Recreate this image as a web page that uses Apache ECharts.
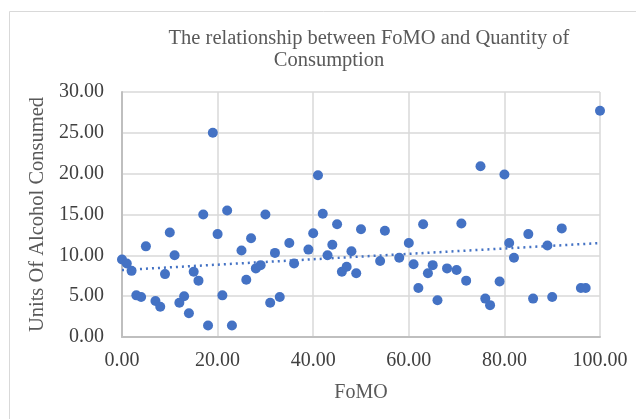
<!DOCTYPE html>
<html>
<head>
<meta charset="utf-8">
<script src="https://cdn.jsdelivr.net/npm/echarts@6/dist/echarts.min.js"></script>
<style>
  html, body { margin: 0; padding: 0; background: #fff; }
  #main { width: 636px; height: 419px; }
</style>
</head>
<body>
<div id="main"></div>
<script>
// FoMO score vs units of alcohol
var fomo = [0, 1, 2, 3, 4, 5, 7, 8, 9, 10, 11, 12, 13, 14, 15, 16, 17, 18, 19, 20,
    21, 22, 23, 25, 26, 27, 28, 29, 30, 31, 32, 33, 35, 36, 39, 40, 41, 42, 43, 44,
    45, 46, 47, 48, 49, 50, 54, 55, 58, 60, 61, 62, 63, 64, 65, 66, 68, 70, 71, 72,
    75, 76, 77, 79, 80, 81, 82, 85, 86, 89, 90, 92, 96, 97, 100];
var units = [9.5, 9.0, 8.1, 5.1, 4.9, 11.1, 4.4, 3.7, 7.7, 12.8, 10.0, 4.2, 5.0, 2.9, 8.0, 6.9, 15.0, 1.4, 25.0, 12.6,
    5.1, 15.5, 1.4, 10.6, 7.0, 12.1, 8.4, 8.8, 15.0, 4.2, 10.3, 4.9, 11.5, 9.0, 10.7, 12.7, 19.8, 15.1, 10.0, 11.3,
    13.8, 8.0, 8.6, 10.5, 7.8, 13.2, 9.3, 13.0, 9.7, 11.5, 8.9, 6.0, 13.8, 7.8, 8.8, 4.5, 8.4, 8.2, 13.9, 6.9,
    20.9, 4.7, 3.9, 6.8, 19.9, 11.5, 9.7, 12.6, 4.7, 11.2, 4.9, 13.3, 6.0, 6.0, 27.7];
// linear trend line ends as drawn
var trendX = [0, 100];
var trendY = [8.2, 11.5];

var points = [];
for (var i = 0; i < fomo.length; i++) {
    points.push([fomo[i], units[i]]);
}
var trend = [[trendX[0], trendY[0]], [trendX[1], trendY[1]]];

var serif = '"Liberation Serif", "Times New Roman", serif';
var chart = echarts.init(document.getElementById('main'));

option = {
    animation: false,
    graphic: [{
        type: 'rect',
        left: 7, top: 9,
        shape: { width: 700, height: 500 },
        style: { fill: 'none', stroke: '#d9d9d9', lineWidth: 1 }
    }],
    title: [
        {
            text: 'The relationship between FoMO and Quantity of',
            left: 364, top: 23, textAlign: 'center',
            textStyle: { fontFamily: serif, fontSize: 20.5, fontWeight: 'normal', color: '#595959' }
        },
        {
            text: 'Consumption',
            left: 324, top: 45, textAlign: 'center',
            textStyle: { fontFamily: serif, fontSize: 20.5, fontWeight: 'normal', color: '#595959' }
        }
    ],
    grid: { left: 122, right: 36, top: 92, bottom: 82 },
    xAxis: {
        type: 'value',
        min: 0, max: 100, interval: 20,
        name: 'FoMO',
        nameLocation: 'middle',
        nameGap: 46,
        nameTextStyle: { fontFamily: serif, fontSize: 20, color: '#595959' },
        axisLine: { show: true, lineStyle: { color: '#bfbfbf', width: 2 } },
        axisTick: { show: false },
        axisLabel: {
            fontFamily: serif, fontSize: 20, color: '#404040', margin: 14,
            formatter: function (v) { return v.toFixed(2); }
        },
        splitLine: { show: true, lineStyle: { color: '#d9d9d9', width: 1.5 } }
    },
    yAxis: {
        type: 'value',
        min: 0, max: 30, interval: 5,
        name: 'Units Of Alcohol Consumed',
        nameLocation: 'middle',
        nameGap: 65,
        nameTextStyle: { fontFamily: serif, fontSize: 20.5, color: '#595959' },
        axisLine: { show: true, lineStyle: { color: '#bfbfbf', width: 2 } },
        axisTick: { show: false },
        axisLabel: {
            fontFamily: serif, fontSize: 20, color: '#404040', margin: 18,
            formatter: function (v) { return v.toFixed(2); }
        },
        splitLine: { show: true, lineStyle: { color: '#d9d9d9', width: 1.5 } }
    },
    series: [
        {
            name: 'Trend',
            type: 'line',
            data: trend,
            symbol: 'none',
            silent: true,
            lineStyle: { color: '#4472C4', width: 2.5, type: [2, 4] },
            z: 1
        },
        {
            name: 'Units',
            type: 'scatter',
            data: points,
            symbolSize: 10,
            itemStyle: { color: '#4472C4', opacity: 1 },
            z: 2
        }
    ]
};
chart.setOption(option);
</script>
</body>
</html>
